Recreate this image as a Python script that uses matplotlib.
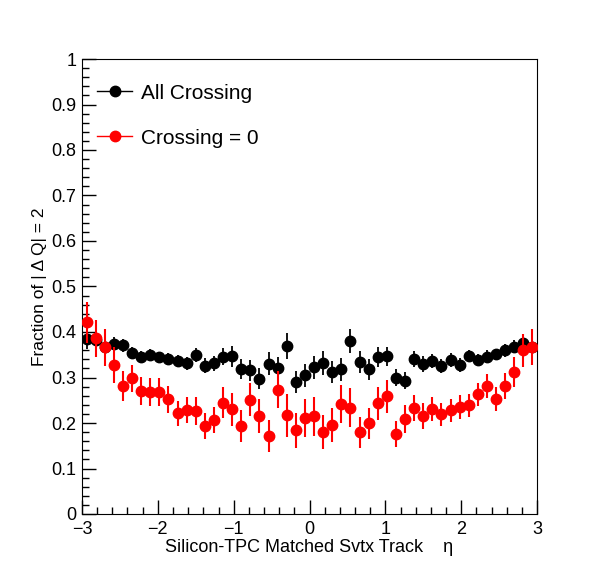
import numpy as np
import matplotlib
matplotlib.use("Agg")
import matplotlib.pyplot as plt
from matplotlib.lines import Line2D
from matplotlib.ticker import MultipleLocator, FuncFormatter

plt.rcParams['font.family'] = ['Liberation Sans', 'DejaVu Sans']

# 50 eta bins from -3 to 3
bin_edges = np.linspace(-3, 3, 51)
eta = 0.5 * (bin_edges[:-1] + bin_edges[1:])
half_width = 0.5 * (bin_edges[1] - bin_edges[0])

all_crossing = [0.384, 0.382, 0.368, 0.374, 0.371, 0.353, 0.346, 0.349, 0.344, 0.340,
                0.336, 0.331, 0.349, 0.326, 0.331, 0.346, 0.347, 0.319, 0.316, 0.297,
                0.330, 0.320, 0.369, 0.290, 0.305, 0.322, 0.332, 0.312, 0.318, 0.380,
                0.334, 0.318, 0.345, 0.347, 0.300, 0.293, 0.340, 0.330, 0.336, 0.325,
                0.338, 0.327, 0.347, 0.338, 0.346, 0.351, 0.360, 0.368, 0.375, 0.367]
all_crossing_err = [0.022, 0.020, 0.018, 0.015, 0.014, 0.013, 0.013, 0.013, 0.013, 0.013,
                    0.013, 0.014, 0.016, 0.016, 0.017, 0.018, 0.023, 0.022, 0.023, 0.023,
                    0.025, 0.026, 0.029, 0.025, 0.025, 0.025, 0.026, 0.025, 0.025, 0.026,
                    0.025, 0.023, 0.023, 0.021, 0.019, 0.018, 0.018, 0.018, 0.016, 0.016,
                    0.015, 0.015, 0.014, 0.013, 0.014, 0.012, 0.014, 0.014, 0.016, 0.020]

crossing0 = [0.421, 0.386, 0.366, 0.327, 0.281, 0.298, 0.270, 0.268, 0.268, 0.252,
             0.221, 0.228, 0.226, 0.193, 0.206, 0.245, 0.230, 0.193, 0.251, 0.215,
             0.171, 0.273, 0.217, 0.184, 0.211, 0.215, 0.180, 0.195, 0.241, 0.234,
             0.180, 0.199, 0.243, 0.259, 0.176, 0.208, 0.233, 0.215, 0.231, 0.219,
             0.228, 0.235, 0.239, 0.263, 0.281, 0.253, 0.281, 0.312, 0.360, 0.367]
crossing0_err = [0.045, 0.040, 0.041, 0.040, 0.033, 0.030, 0.031, 0.030, 0.030, 0.029,
                 0.028, 0.029, 0.031, 0.028, 0.029, 0.035, 0.036, 0.035, 0.036, 0.037,
                 0.035, 0.041, 0.047, 0.038, 0.042, 0.043, 0.038, 0.037, 0.042, 0.042,
                 0.034, 0.034, 0.037, 0.036, 0.029, 0.031, 0.029, 0.028, 0.027, 0.026,
                 0.025, 0.026, 0.025, 0.026, 0.027, 0.026, 0.029, 0.032, 0.036, 0.040]

fig = plt.figure(figsize=(5.96, 5.72), dpi=100)
ax = fig.add_axes([82 / 596, 58 / 572, 455 / 596, 455 / 572])

ax.errorbar(eta, all_crossing, yerr=all_crossing_err, xerr=half_width, fmt='o',
            color='black', ms=7.5, elinewidth=1.3, capsize=0, zorder=3)
ax.errorbar(eta, crossing0, yerr=crossing0_err, xerr=half_width, fmt='o',
            color='red', ms=7.5, elinewidth=1.5, capsize=0, zorder=4)

ax.set_xlim(-3, 3)
ax.set_ylim(0, 1)
ax.xaxis.set_major_locator(MultipleLocator(1))
ax.xaxis.set_minor_locator(MultipleLocator(0.2))
ax.yaxis.set_major_locator(MultipleLocator(0.1))
ax.yaxis.set_minor_locator(MultipleLocator(0.02))


def fmt(v, pos):
    s = "%g" % round(v, 2)
    return s.replace('-', '\u2212')


ax.xaxis.set_major_formatter(FuncFormatter(fmt))
ax.yaxis.set_major_formatter(FuncFormatter(fmt))
ax.tick_params(which='both', direction='in', top=False, right=False, labelsize=13)
ax.tick_params(which='major', length=10, width=1)
ax.tick_params(which='minor', length=5, width=1)
ax.tick_params(axis='x', pad=5)
ax.tick_params(axis='y', pad=4)

ax.set_xlabel("Silicon-TPC Matched Svtx Track    \u03b7", fontsize=13, labelpad=1)
ax.set_ylabel("Fraction of | \u0394 Q| = 2", fontsize=12.5, labelpad=3)

handles = [Line2D([], [], color='black', marker='o', ms=7.5, lw=1),
           Line2D([], [], color='red', marker='o', ms=7.5, lw=1)]
ax.legend(handles, ["All Crossing", "Crossing = 0"], loc='upper left',
          bbox_to_anchor=(0.033, 0.946), frameon=False, fontsize=15,
          handlelength=1.7, handletextpad=0.4, labelspacing=1.25,
          borderpad=0, borderaxespad=0)

fig.savefig("out.png", dpi=100)
